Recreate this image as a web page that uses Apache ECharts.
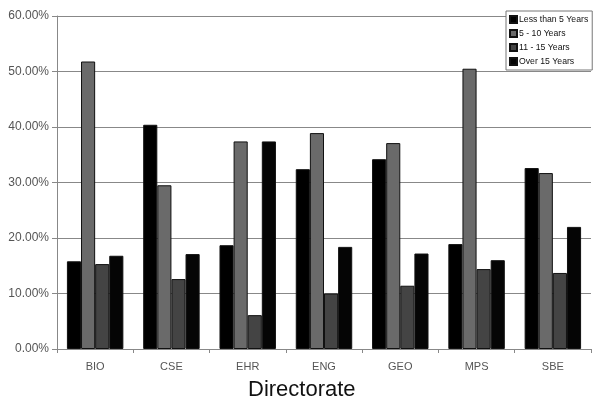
<!DOCTYPE html>
<html>
<head>
<meta charset="utf-8">
<script src="https://cdn.jsdelivr.net/npm/echarts@6/dist/echarts.min.js"></script>
<style>html,body{margin:0;padding:0;background:#fff;}#c{width:593px;height:406px;}</style>
</head>
<body>
<div id="c"></div>
<script>
const categories = ['BIO', 'CSE', 'EHR', 'ENG', 'GEO', 'MPS', 'SBE'];
const seriesNames = ['Less than 5 Years', '5 - 10 Years', '11 - 15 Years', 'Over 15 Years'];
const lessThan5 = [0.158, 0.404, 0.187, 0.324, 0.342, 0.189, 0.326];
const from5to10 = [0.518, 0.295, 0.374, 0.389, 0.371, 0.505, 0.317];
const from11to15 = [0.153, 0.126, 0.061, 0.100, 0.114, 0.144, 0.137];
const over15 = [0.168, 0.171, 0.374, 0.184, 0.172, 0.160, 0.220];
const yTicks = [0, 0.1, 0.2, 0.3, 0.4, 0.5, 0.6];

const colors = ['#000000', '#6a6a6a', '#444444', '#050505'];
const data = [lessThan5, from5to10, from11to15, over15];

const chart = echarts.init(document.getElementById('c'));
chart.setOption({
  animation: false,
  backgroundColor: '#fff',
  title: {
    text: 'Directorate',
    left: 243, top: 374,
    textStyle: { fontFamily: 'Liberation Sans, Arial', fontSize: 22, fontWeight: 'normal', color: '#111' }
  },
  grid: { left: 57, right: 2, top: 16, bottom: 57, containLabel: false },
  legend: {
    orient: 'vertical',
    left: 506, top: 11,
    backgroundColor: '#fff',
    borderColor: '#777',
    borderWidth: 1,
    padding: [4, 4, 4, 3],
    itemWidth: 7, itemHeight: 7, itemGap: 5,
    icon: 'rect',
    textStyle: { fontFamily: 'Liberation Sans, Arial', fontSize: 8.7, color: '#111', padding: [0, 0, 0, -3] },
    data: seriesNames
  },
  xAxis: {
    type: 'category',
    data: categories,
    axisLine: { lineStyle: { color: '#888', width: 1 } },
    axisTick: { show: true, length: 4, lineStyle: { color: '#888' } },
    axisLabel: { fontFamily: 'Liberation Sans, Arial', fontSize: 11, color: '#555', margin: 12 }
  },
  yAxis: {
    type: 'value',
    min: 0, max: 0.6, interval: 0.1,
    axisLine: { show: true, lineStyle: { color: '#888', width: 1 } },
    axisTick: { show: true, length: 5, lineStyle: { color: '#888' } },
    splitLine: { lineStyle: { color: '#888', width: 1 } },
    axisLabel: {
      fontFamily: 'Liberation Sans, Arial', fontSize: 12, color: '#555', margin: 8,
      formatter: v => (v * 100).toFixed(2) + '%'
    }
  },
  series: seriesNames.map((n, i) => ({
    name: n,
    type: 'bar',
    data: data[i],
    barGap: '0%',
    barCategoryGap: '26%',
    itemStyle: { color: colors[i], borderColor: '#111', borderWidth: 1 }
  }))
});
</script>
</body>
</html>
